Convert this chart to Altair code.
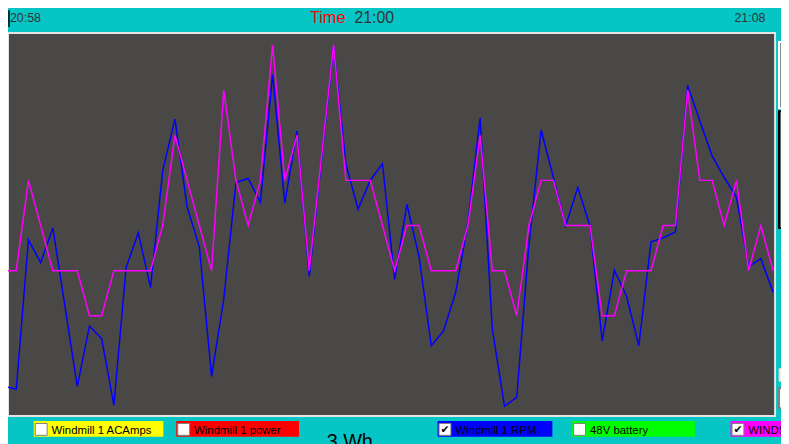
import altair as alt
import pandas as pd

# ---- data (64 samples, 21:00 window) ----
sample = list(range(64))
rpm = [15, 13.5, 89, 77.5, 95, 55, 15, 45.5, 39, 5.5,
       75, 92.5, 65, 124, 150, 105.5, 85.5, 20, 59, 118,
       120, 108, 172.5, 107.5, 144, 70.5, 129, 186.5, 127.5, 104.5,
       119, 127.5, 69, 107, 80.5, 35.5, 43, 62.5, 97.5, 150.5,
       44, 5, 9.5, 86.5, 144.5, 120.5, 96, 115.5, 96, 38,
       73.5, 60.5, 35.5, 88, 90, 93, 167, 149, 131.5, 120.5,
       110.5, 75.5, 79.5, 62.5]
wind = [2, 2, 4, 3, 2, 2, 2, 1, 1, 2,
        2, 2, 2, 3, 5, 4, 3, 2, 6, 4,
        3, 4, 7, 4, 5, 2, 4.5, 7, 4, 4,
        4, 3, 2, 3, 3, 2, 2, 2, 3, 5,
        2, 2, 1, 3, 4, 4, 3, 3, 3, 1,
        1, 2, 2, 2, 3, 3, 6, 4, 4, 3,
        4, 2, 3, 2]

legend_labels = ["Windmill 1 ACAmps", "Windmill 1 power", "Windmill 1 RPM", "48V battery", "WINDSPEED"]
legend_colors = ["#ffff00", "#ff0000", "#0000ff", "#00ff00", "#ff00ff"]
legend_checked = [False, False, True, False, True]

top_times = ["20:58", "21:00", "21:08"]

# ---- layout (pixels, chart coordinates) ----
legend_x0 = [26, 170, 434, 570, 730]
legend_x1 = [157, 294, 550, 694, 800]

df = pd.DataFrame({"t": sample, "rpm": rpm, "wind": wind})
one = pd.DataFrame({"a": [0]})

CYAN = "#06c5c5"
PLOT = "#4a4747"
FONT = "Liberation Sans"

xenc = alt.X("t:Q", scale=alt.Scale(domain=[0, 63], range=[-4, 773]), axis=None)

layers = []

# plot frame
layers.append(
    alt.Chart(one).mark_rect(fill=PLOT, stroke="#e4e4e4", strokeWidth=2).encode(
        x=alt.value(0), x2=alt.value(775), y=alt.value(23), y2=alt.value(410)
    )
)

# right side panel fragments
layers.append(
    alt.Chart(one).mark_rect(fill="#8a8a8a", stroke="#ffffff", strokeWidth=2).encode(
        x=alt.value(779), x2=alt.value(795), y=alt.value(32), y2=alt.value(99)
    )
)
layers.append(
    alt.Chart(one).mark_rect(fill="#6a6a6a", stroke="#000000", strokeWidth=2).encode(
        x=alt.value(779), x2=alt.value(795), y=alt.value(102), y2=alt.value(220)
    )
)
layers.append(
    alt.Chart(one).mark_rect(fill="#f4f0e0", stroke="#d0d0d0", strokeWidth=1).encode(
        x=alt.value(779), x2=alt.value(795), y=alt.value(362), y2=alt.value(375)
    )
)
layers.append(
    alt.Chart(one).mark_rect(fill="#ffffff", stroke="#808080", strokeWidth=2).encode(
        x=alt.value(779), x2=alt.value(795), y=alt.value(382), y2=alt.value(402)
    )
)

# lines
layers.append(
    alt.Chart(df).mark_line(color="#0000ff", strokeWidth=1.5, interpolate="linear").encode(
        x=xenc,
        y=alt.Y("rpm:Q", scale=alt.Scale(domain=[0, 200], range=[410, 10]), axis=None),
    )
)
layers.append(
    alt.Chart(df).mark_line(color="#ff00ff", strokeWidth=1.5, interpolate="linear").encode(
        x=xenc,
        y=alt.Y("wind:Q", scale=alt.Scale(domain=[0, 7], range=[354.3, 35.1]), axis=None),
    )
)

# top labels
layers.append(
    alt.Chart(one).mark_rule(color="#000000", strokeWidth=1.5).encode(
        x=alt.value(1), y=alt.value(0), y2=alt.value(17)
    )
)
layers.append(
    alt.Chart(one).mark_text(text=top_times[0], align="left", baseline="alphabetic",
                             font=FONT, fontSize=12.5, color="#333333").encode(
        x=alt.value(2), y=alt.value(12))
)
layers.append(
    alt.Chart(one).mark_text(text="Time", align="left", baseline="alphabetic",
                             font=FONT, fontSize=16.5, color="#ff0000").encode(
        x=alt.value(305), y=alt.value(13))
)
layers.append(
    alt.Chart(one).mark_text(text=top_times[1], align="left", baseline="alphabetic",
                             font=FONT, fontSize=16, color="#333333").encode(
        x=alt.value(350), y=alt.value(13))
)
layers.append(
    alt.Chart(one).mark_text(text=top_times[2], align="left", baseline="alphabetic",
                             font=FONT, fontSize=12.5, color="#333333").encode(
        x=alt.value(734), y=alt.value(12))
)

# legend (series toggles)
for lab, col, chk, x0, x1 in zip(legend_labels, legend_colors, legend_checked, legend_x0, legend_x1):
    layers.append(
        alt.Chart(one).mark_rect(fill=col).encode(
            x=alt.value(x0), x2=alt.value(x1), y=alt.value(415), y2=alt.value(431))
    )
    layers.append(
        alt.Chart(one).mark_rect(fill="#ffffff", stroke="#808080", strokeWidth=1).encode(
            x=alt.value(x0 + 1.5), x2=alt.value(x0 + 13.5), y=alt.value(417.5), y2=alt.value(429.5))
    )
    if chk:
        layers.append(
            alt.Chart(one).mark_text(text="✔", align="center", baseline="middle",
                                     font="DejaVu Sans", fontSize=11, color="#000000").encode(
                x=alt.value(x0 + 7.5), y=alt.value(424))
        )
    layers.append(
        alt.Chart(one).mark_text(text=lab, align="left", baseline="alphabetic",
                                 font=FONT, fontSize=11.5, color="#000000").encode(
            x=alt.value(x0 + 18), y=alt.value(428))
    )

# partially visible readout below legend
layers.append(
    alt.Chart(one).mark_text(text="3 Wh", align="left", baseline="alphabetic",
                             font=FONT, fontSize=20, color="#000000").encode(
        x=alt.value(322), y=alt.value(442))
)

chart = (
    alt.layer(*layers)
    .resolve_scale(y="independent")
    .properties(width=781, height=436, padding=0,
                autosize=alt.AutoSizeParams(type="none"),
                background=CYAN)
    .configure_view(strokeWidth=0)
)

chart.save("out.html", embed_options={"renderer": "svg", "actions": False})
